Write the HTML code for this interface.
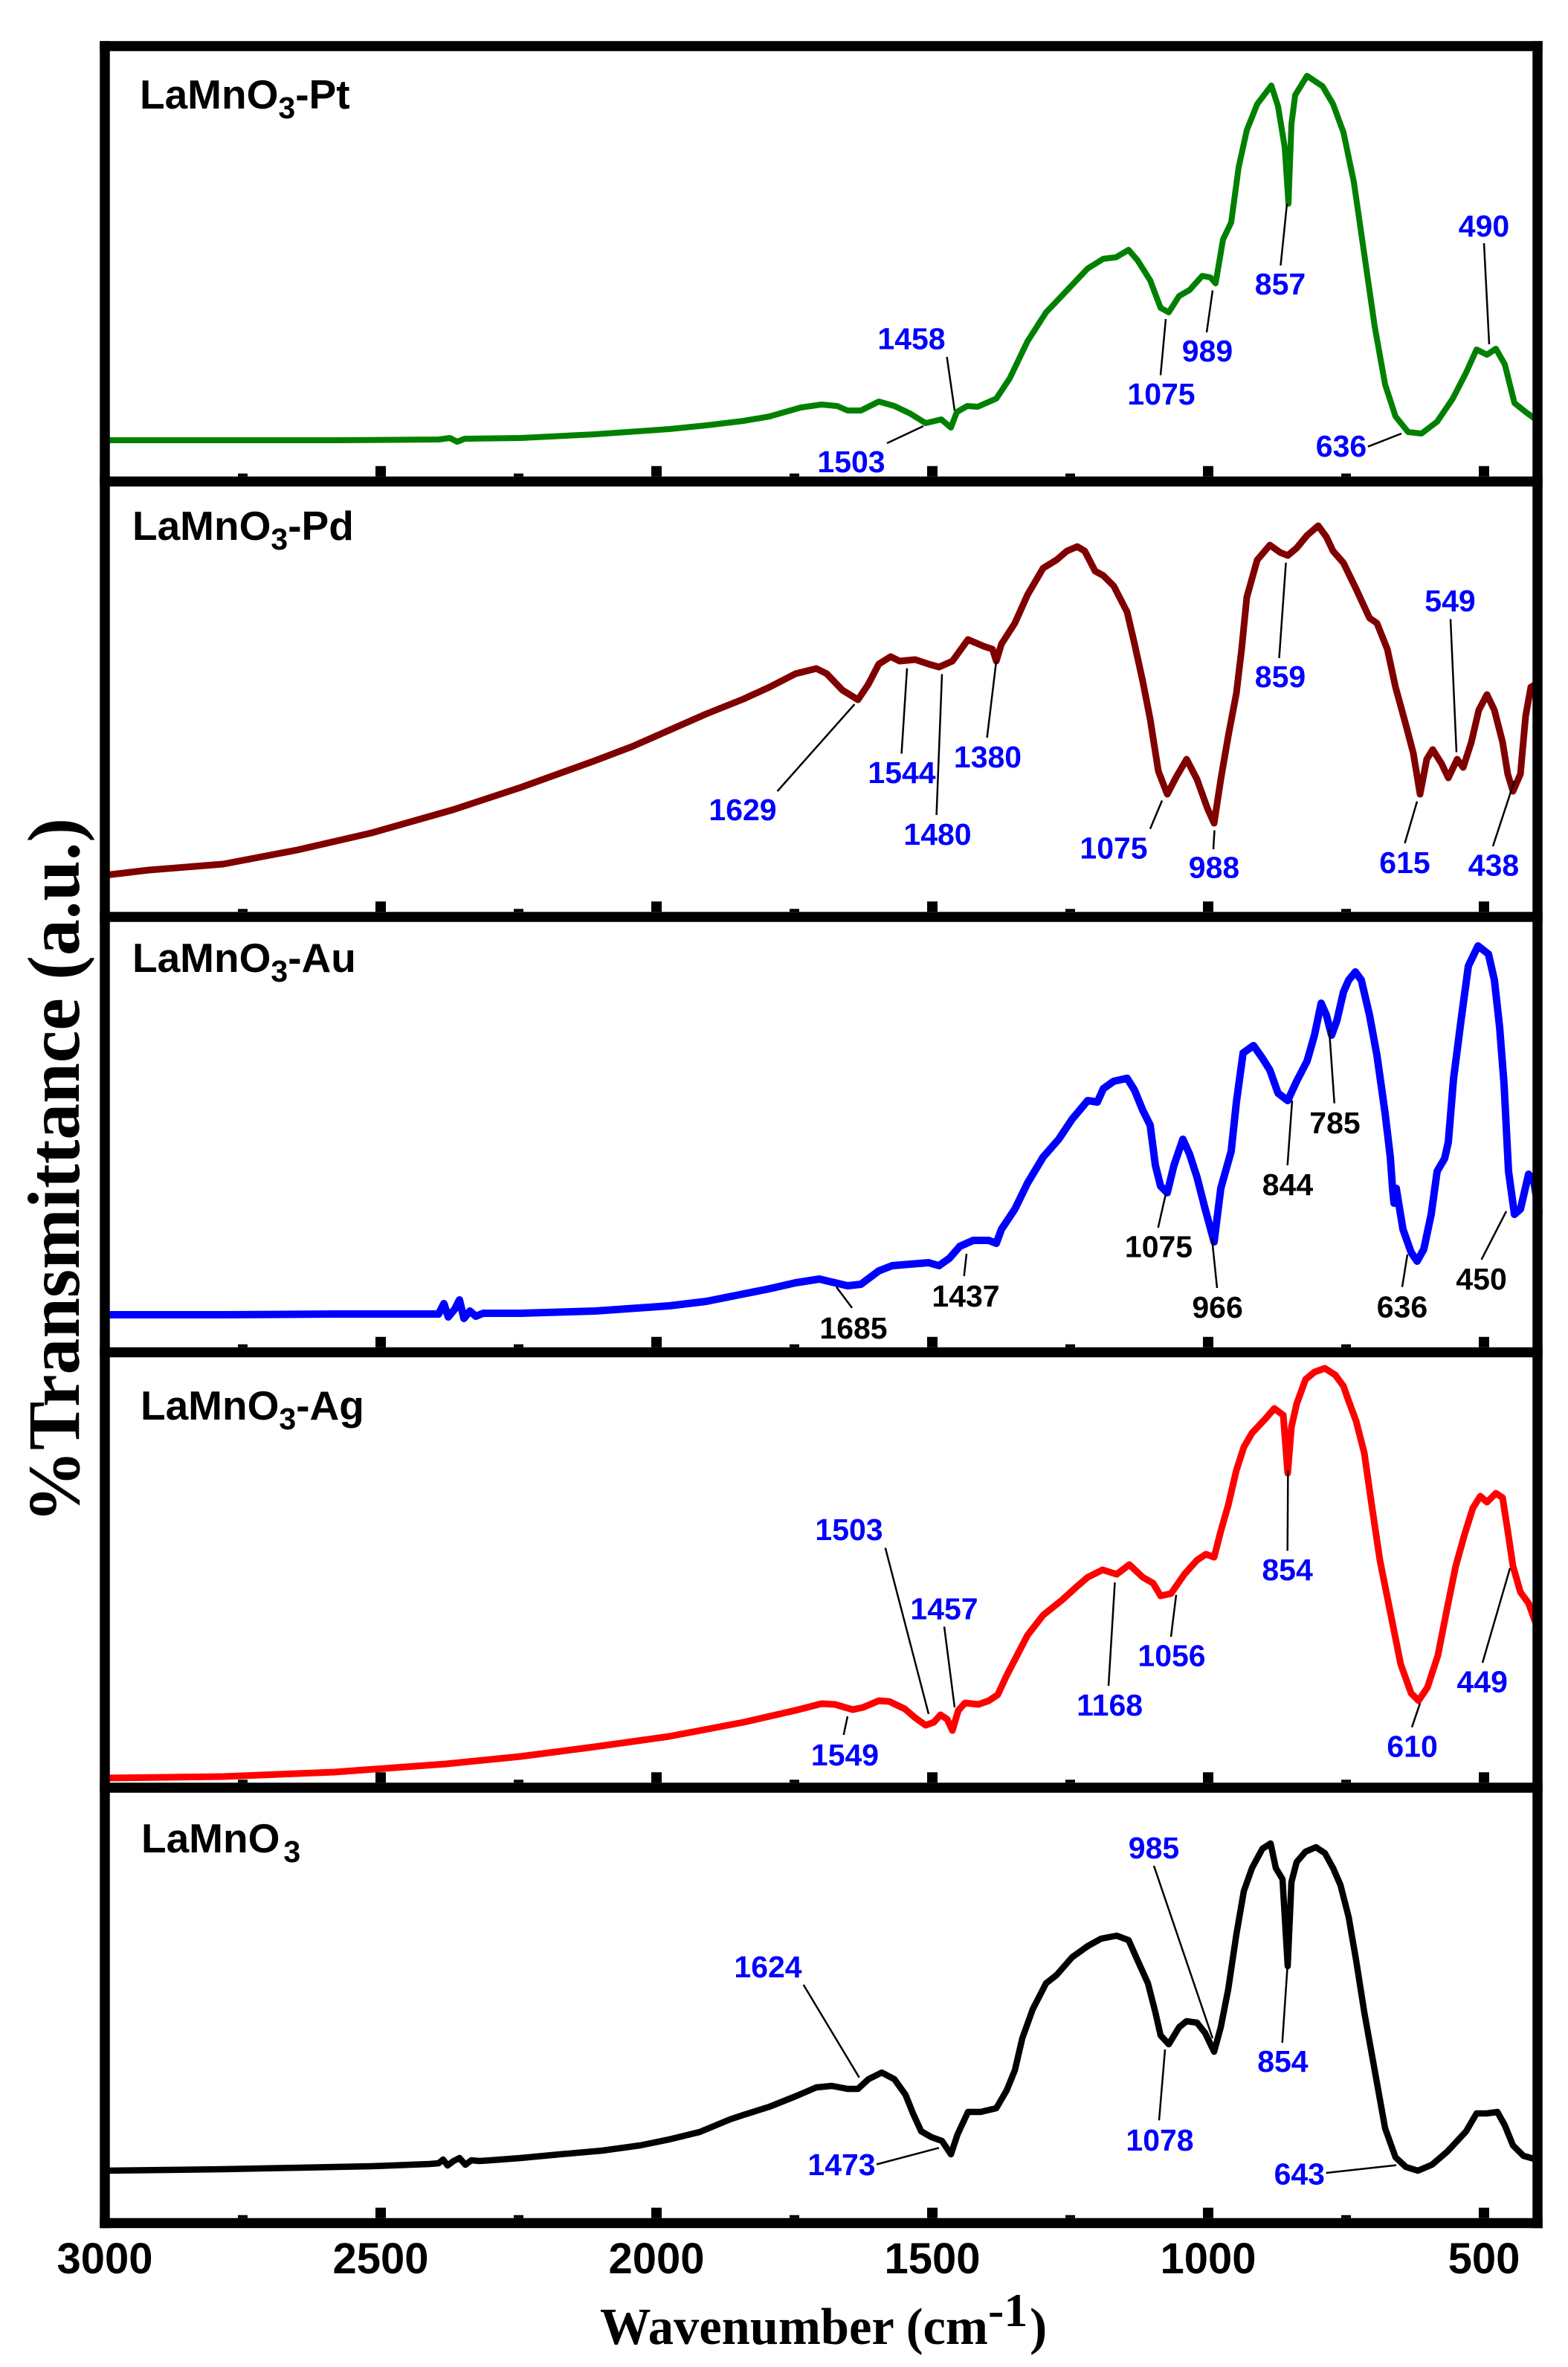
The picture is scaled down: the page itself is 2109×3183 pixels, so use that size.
<!DOCTYPE html>
<html>
<head>
<meta charset="utf-8">
<style>
  html, body { margin: 0; padding: 0; background: #ffffff; }
  svg { display: block; }
  .lbl { font-family: "Liberation Sans", Arial, sans-serif; font-weight: bold; font-size: 41px; text-anchor: middle; }
  .blue { fill: #0000ff; }
  .blk { fill: #000000; }
  .pl { font-family: "Liberation Sans", Arial, sans-serif; font-weight: bold; font-size: 55px; fill: #000; }
  .tick { font-family: "Liberation Sans", Arial, sans-serif; font-weight: bold; font-size: 58px; text-anchor: middle; fill: #000; }
  .ttl { font-family: "Liberation Serif", "Times New Roman", serif; font-weight: bold; fill: #000; }
  .crv { fill: none; stroke-linejoin: round; stroke-linecap: round; }
  .ld { stroke: #000; stroke-width: 2.5; fill: none; }
</style>
</head>
<body>
<svg width="2109" height="3183" viewBox="0 0 2109 3183" xmlns="http://www.w3.org/2000/svg">
<rect x="0" y="0" width="2109" height="3183" fill="#ffffff"/>

<!-- Curves -->
<polyline class="crv" stroke="#008000" stroke-width="8" points="141,592 300,592 450,592 590,591 605,589 615,594 625,590 700,589 800,584 900,577 950,572 1000,566 1035,560 1077,548 1105,544 1126,546 1140,552 1158,552 1182,540 1203,546 1224,556 1245,569 1266,564 1279,575 1287,554 1301,546 1315,547 1340,536 1358,509 1382,459 1407,420 1428,398 1463,361 1484,348 1501,346 1518,336 1530,350 1547,377 1561,414 1572,420 1586,398 1600,390 1617,371 1628,373 1635,381 1645,322 1656,299 1666,225 1677,175 1691,140 1710,115 1719,143 1728,198 1733,274 1737,167 1742,128 1758,102 1779,116 1793,140 1807,178 1821,245 1835,342 1849,439 1863,517 1877,560 1894,581 1912,583 1933,567 1954,536 1972,501 1986,470 2000,477 2012,469 2024,490 2037,542 2052,554 2063,562"/>

<polyline class="crv" stroke="#800000" stroke-width="9" points="141,1177 200,1170 300,1162 400,1143 500,1120 609,1089 700,1059 800,1023 850,1004 900,982 950,960 1000,940 1035,924 1070,906 1098,899 1112,906 1133,928 1154,941 1168,920 1182,893 1198,883 1210,889 1231,887 1249,893 1263,897 1281,889 1302,860 1323,869 1335,873 1340,889 1347,866 1365,838 1382,800 1403,764 1421,753 1435,741 1449,735 1459,741 1473,768 1484,774 1498,788 1516,823 1526,866 1537,916 1547,967 1558,1037 1570,1068 1582,1045 1596,1021 1610,1048 1624,1087 1633,1107 1642,1048 1652,990 1663,932 1670,873 1677,803 1691,753 1708,733 1722,743 1732,747 1744,737 1758,720 1773,707 1784,722 1793,741 1807,757 1824,792 1842,831 1852,838 1866,873 1877,924 1891,975 1901,1013 1910,1068 1919,1021 1927,1008 1939,1027 1948,1046 1960,1021 1968,1032 1979,998 1989,955 2000,934 2010,955 2021,998 2028,1041 2035,1064 2045,1041 2052,963 2059,924 2066,920 2070,938"/>

<polyline class="crv" stroke="#0000ff" stroke-width="10" points="141,1768 300,1768 450,1767 590,1767 597,1753 603,1771 612,1760 618,1748 624,1773 632,1763 640,1770 650,1766 700,1766 800,1763 900,1756 950,1750 1000,1740 1035,1733 1070,1725 1102,1720 1123,1725 1140,1729 1158,1727 1182,1709 1200,1702 1224,1700 1249,1698 1263,1702 1277,1692 1291,1676 1309,1668 1330,1668 1340,1672 1347,1653 1365,1626 1382,1591 1403,1556 1424,1532 1442,1505 1463,1480 1476,1482 1484,1464 1498,1454 1516,1450 1526,1466 1537,1493 1547,1513 1554,1567 1561,1595 1570,1604 1579,1567 1591,1532 1600,1552 1610,1583 1621,1626 1633,1670 1642,1598 1656,1548 1663,1482 1672,1416 1686,1406 1698,1423 1708,1439 1719,1470 1732,1480 1744,1454 1758,1427 1768,1392 1777,1349 1784,1365 1791,1392 1798,1373 1807,1334 1814,1318 1823,1307 1831,1318 1842,1365 1852,1419 1863,1497 1870,1556 1873,1598 1875,1618 1878,1598 1887,1653 1898,1684 1906,1696 1915,1680 1925,1633 1933,1575 1943,1558 1948,1536 1955,1451 1965,1373 1975,1299 1988,1272 2002,1283 2010,1318 2017,1381 2023,1458 2029,1575 2037,1633 2045,1626 2056,1579 2063,1589 2070,1630"/>

<polyline class="crv" stroke="#ff0000" stroke-width="9" points="141,2391 300,2389 450,2383 600,2372 700,2362 800,2349 900,2335 1000,2316 1035,2308 1070,2300 1105,2291 1123,2292 1147,2299 1161,2296 1182,2287 1196,2288 1217,2298 1231,2310 1245,2320 1256,2316 1265,2306 1274,2312 1281,2327 1289,2300 1298,2290 1316,2292 1330,2287 1342,2279 1354,2253 1368,2226 1382,2199 1403,2172 1428,2152 1449,2133 1463,2121 1483,2111 1502,2117 1519,2104 1537,2121 1551,2129 1561,2146 1575,2143 1593,2117 1610,2098 1622,2090 1633,2094 1642,2059 1652,2024 1663,1977 1673,1946 1684,1927 1701,1909 1714,1894 1726,1903 1732,1981 1737,1919 1744,1888 1756,1855 1768,1845 1782,1840 1796,1849 1807,1864 1814,1884 1824,1911 1835,1954 1845,2024 1856,2098 1870,2168 1884,2238 1898,2277 1908,2287 1920,2269 1934,2226 1947,2160 1958,2106 1970,2063 1981,2028 1991,2012 2000,2020 2012,2008 2021,2014 2028,2059 2035,2106 2045,2141 2056,2156 2066,2184 2070,2192"/>

<polyline class="crv" stroke="#000000" stroke-width="8.5" points="141,2919 300,2917 403,2915 500,2913 578,2910 590,2909 596,2904 602,2912 610,2906 618,2902 626,2911 634,2905 645,2906 660,2905 700,2902 753,2897 810,2892 861,2885 900,2877 941,2867 982,2850 1000,2844 1035,2833 1070,2819 1098,2807 1119,2805 1140,2809 1154,2809 1168,2796 1186,2787 1203,2796 1218,2817 1228,2842 1239,2866 1253,2874 1267,2879 1279,2897 1288,2870 1302,2840 1319,2840 1340,2835 1354,2811 1365,2784 1375,2741 1389,2702 1407,2667 1421,2656 1442,2632 1463,2617 1481,2607 1502,2603 1518,2609 1530,2636 1544,2667 1554,2706 1561,2737 1572,2749 1586,2726 1596,2718 1610,2720 1621,2734 1633,2759 1642,2726 1652,2675 1663,2601 1673,2543 1684,2512 1698,2486 1709,2479 1716,2512 1725,2527 1732,2644 1737,2531 1744,2504 1756,2490 1770,2484 1782,2492 1793,2512 1803,2535 1814,2578 1824,2636 1835,2706 1849,2784 1863,2862 1877,2901 1891,2914 1907,2919 1926,2911 1947,2893 1972,2866 1986,2842 2000,2842 2014,2840 2024,2858 2035,2885 2049,2899 2063,2903 2070,2906"/>

<!-- Leader lines -->
<g class="ld">
  <line x1="1273.6" y1="480" x2="1284" y2="552"/>
  <line x1="1193" y1="596" x2="1242" y2="573"/>
  <line x1="1561" y1="504.5" x2="1568" y2="429"/>
  <line x1="1623" y1="447" x2="1631" y2="390.5"/>
  <line x1="1722.5" y1="357" x2="1731" y2="274"/>
  <line x1="1996" y1="327" x2="2003" y2="463"/>
  <line x1="1840" y1="600.6" x2="1885" y2="583"/>

  <line x1="1045.6" y1="1064" x2="1149.4" y2="947"/>
  <line x1="1212.6" y1="1013.5" x2="1220" y2="898.7"/>
  <line x1="1259.6" y1="1096" x2="1267" y2="906.5"/>
  <line x1="1327.6" y1="992" x2="1340" y2="889"/>
  <line x1="1547" y1="1114.6" x2="1563" y2="1076.5"/>
  <line x1="1632" y1="1142" x2="1633.5" y2="1116.6"/>
  <line x1="1720.5" y1="885" x2="1729.6" y2="756.7"/>
  <line x1="1951" y1="832.6" x2="1959" y2="1011.5"/>
  <line x1="1889.5" y1="1134" x2="1906" y2="1077.7"/>
  <line x1="2008" y1="1138" x2="2036.8" y2="1050.4"/>

  <line x1="1146" y1="1758.7" x2="1125" y2="1730.7"/>
  <line x1="1296.7" y1="1716" x2="1300" y2="1686"/>
  <line x1="1557.7" y1="1651" x2="1568" y2="1605.5"/>
  <line x1="1637" y1="1732" x2="1630" y2="1664.6"/>
  <line x1="1731.7" y1="1567" x2="1738" y2="1479.8"/>
  <line x1="1794.8" y1="1483.7" x2="1787.8" y2="1384.5"/>
  <line x1="1886" y1="1730.7" x2="1893" y2="1687"/>
  <line x1="1992.6" y1="1693.8" x2="2026" y2="1628.8"/>

  <line x1="1190.8" y1="2081.5" x2="1249" y2="2304.8"/>
  <line x1="1270" y1="2187.4" x2="1284" y2="2296"/>
  <line x1="1134.7" y1="2333" x2="1140" y2="2308"/>
  <line x1="1491" y1="2267" x2="1499.5" y2="2128"/>
  <line x1="1575" y1="2201" x2="1582" y2="2144.6"/>
  <line x1="1731.7" y1="2085.4" x2="1732.4" y2="1977.3"/>
  <line x1="1899" y1="2322.7" x2="1910" y2="2290.5"/>
  <line x1="1994" y1="2236" x2="2031" y2="2108.8"/>

  <line x1="1080.7" y1="2669" x2="1155.7" y2="2793.8"/>
  <line x1="1179" y1="2910.5" x2="1263" y2="2888.3"/>
  <line x1="1552" y1="2509" x2="1631" y2="2741"/>
  <line x1="1559" y1="2851.3" x2="1567" y2="2756"/>
  <line x1="1724.7" y1="2747" x2="1731.7" y2="2644"/>
  <line x1="1783.6" y1="2922" x2="1878" y2="2911.6"/>
</g>

<!-- Peak labels -->
<g class="lbl blue">
  <text x="1226" y="469.5">1458</text>
  <text x="1145" y="635">1503</text>
  <text x="1562" y="544">1075</text>
  <text x="1624" y="486">989</text>
  <text x="1722" y="396">857</text>
  <text x="1996" y="318">490</text>
  <text x="1804" y="614">636</text>

  <text x="999" y="1103">1629</text>
  <text x="1213" y="1053">1544</text>
  <text x="1261" y="1136">1480</text>
  <text x="1328.5" y="1032">1380</text>
  <text x="1498" y="1154.5">1075</text>
  <text x="1633" y="1180.5">988</text>
  <text x="1722" y="924">859</text>
  <text x="1950.5" y="822">549</text>
  <text x="1889.5" y="1174">615</text>
  <text x="2009" y="1177.5">438</text>

  <text x="1142" y="2071">1503</text>
  <text x="1270" y="2177.6">1457</text>
  <text x="1136.5" y="2374">1549</text>
  <text x="1492.6" y="2306.8">1168</text>
  <text x="1576" y="2240.7">1056</text>
  <text x="1731.6" y="2125">854</text>
  <text x="1899.6" y="2362.4">610</text>
  <text x="1993.7" y="2275.7">449</text>

  <text x="1033" y="2659">1624</text>
  <text x="1132" y="2925">1473</text>
  <text x="1552" y="2499">985</text>
  <text x="1560" y="2891.8">1078</text>
  <text x="1725.4" y="2786">854</text>
  <text x="1747.8" y="2937.7">643</text>
</g>
<g class="lbl blk">
  <text x="1148" y="1800">1685</text>
  <text x="1299" y="1757">1437</text>
  <text x="1558.5" y="1690.7">1075</text>
  <text x="1637.6" y="1772">966</text>
  <text x="1732" y="1607">844</text>
  <text x="1795.5" y="1523.8">785</text>
  <text x="1886" y="1771.6">636</text>
  <text x="1992.6" y="1733.8">450</text>
</g>

<!-- Panel labels -->
<text class="pl" x="188" y="146">LaMnO<tspan font-size="41" dy="13">3</tspan><tspan dy="-13">-Pt</tspan></text>
<text class="pl" x="178" y="726">LaMnO<tspan font-size="41" dy="13">3</tspan><tspan dy="-13">-Pd</tspan></text>
<text class="pl" x="178" y="1307">LaMnO<tspan font-size="41" dy="13">3</tspan><tspan dy="-13">-Au</tspan></text>
<text class="pl" x="189" y="1909">LaMnO<tspan font-size="41" dy="13">3</tspan><tspan dy="-13">-Ag</tspan></text>
<text class="pl" x="190" y="2491">LaMnO<tspan font-size="41" dx="5" dy="13">3</tspan></text>

<!-- Ticks (bottom of each panel, pointing up) -->
<g fill="#000">
  <rect x="505" y="626.75" width="14" height="14"/><rect x="876" y="626.75" width="14" height="14"/><rect x="1247" y="626.75" width="14" height="14"/><rect x="1618" y="626.75" width="14" height="14"/><rect x="1989" y="626.75" width="14" height="14"/>
  <rect x="320" y="636.75" width="13" height="4"/><rect x="691" y="636.75" width="13" height="4"/><rect x="1062" y="636.75" width="13" height="4"/><rect x="1433" y="636.75" width="13" height="4"/><rect x="1804" y="636.75" width="13" height="4"/>
  <rect x="505" y="1212.25" width="14" height="14"/><rect x="876" y="1212.25" width="14" height="14"/><rect x="1247" y="1212.25" width="14" height="14"/><rect x="1618" y="1212.25" width="14" height="14"/><rect x="1989" y="1212.25" width="14" height="14"/>
  <rect x="320" y="1222.25" width="13" height="4"/><rect x="691" y="1222.25" width="13" height="4"/><rect x="1062" y="1222.25" width="13" height="4"/><rect x="1433" y="1222.25" width="13" height="4"/><rect x="1804" y="1222.25" width="13" height="4"/>
  <rect x="505" y="1797.75" width="14" height="14"/><rect x="876" y="1797.75" width="14" height="14"/><rect x="1247" y="1797.75" width="14" height="14"/><rect x="1618" y="1797.75" width="14" height="14"/><rect x="1989" y="1797.75" width="14" height="14"/>
  <rect x="320" y="1807.75" width="13" height="4"/><rect x="691" y="1807.75" width="13" height="4"/><rect x="1062" y="1807.75" width="13" height="4"/><rect x="1433" y="1807.75" width="13" height="4"/><rect x="1804" y="1807.75" width="13" height="4"/>
  <rect x="505" y="2383.25" width="14" height="14"/><rect x="876" y="2383.25" width="14" height="14"/><rect x="1247" y="2383.25" width="14" height="14"/><rect x="1618" y="2383.25" width="14" height="14"/><rect x="1989" y="2383.25" width="14" height="14"/>
  <rect x="320" y="2393.25" width="13" height="4"/><rect x="691" y="2393.25" width="13" height="4"/><rect x="1062" y="2393.25" width="13" height="4"/><rect x="1433" y="2393.25" width="13" height="4"/><rect x="1804" y="2393.25" width="13" height="4"/>
  <rect x="505" y="2968.75" width="14" height="14"/><rect x="876" y="2968.75" width="14" height="14"/><rect x="1247" y="2968.75" width="14" height="14"/><rect x="1618" y="2968.75" width="14" height="14"/><rect x="1989" y="2968.75" width="14" height="14"/>
  <rect x="320" y="2978.75" width="13" height="4"/><rect x="691" y="2978.75" width="13" height="4"/><rect x="1062" y="2978.75" width="13" height="4"/><rect x="1433" y="2978.75" width="13" height="4"/><rect x="1804" y="2978.75" width="13" height="4"/>
</g>

<!-- Frame -->
<g stroke="#000" stroke-width="13.5" fill="none" stroke-linecap="square">
  <line x1="141" y1="62" x2="2068" y2="62"/>
  <line x1="141" y1="647.5" x2="2068" y2="647.5"/>
  <line x1="141" y1="1233" x2="2068" y2="1233"/>
  <line x1="141" y1="1818.5" x2="2068" y2="1818.5"/>
  <line x1="141" y1="2404" x2="2068" y2="2404"/>
  <line x1="141" y1="2989.5" x2="2068" y2="2989.5"/>
  <line x1="141" y1="62" x2="141" y2="2989.5"/>
  <line x1="2068" y1="62" x2="2068" y2="2989.5"/>
</g>

<!-- X tick labels -->
<g class="tick">
  <text x="141" y="3057">3000</text>
  <text x="512" y="3057">2500</text>
  <text x="883" y="3057">2000</text>
  <text x="1254" y="3057">1500</text>
  <text x="1625" y="3057">1000</text>
  <text x="1996" y="3057">500</text>
</g>

<!-- Axis titles -->
<text class="ttl" x="807" y="3152" font-size="70" textLength="522" lengthAdjust="spacingAndGlyphs">Wavenumber (cm</text>
<text class="ttl" x="1329" y="3128" font-size="64">-1</text>
<text class="ttl" x="1385" y="3152" font-size="70">)</text>

<text class="ttl" font-size="100" text-anchor="middle" textLength="948" lengthAdjust="spacingAndGlyphs" transform="translate(106,1574) rotate(-90)">%Transmittance (a.u.)</text>
</svg>
</body>
</html>
